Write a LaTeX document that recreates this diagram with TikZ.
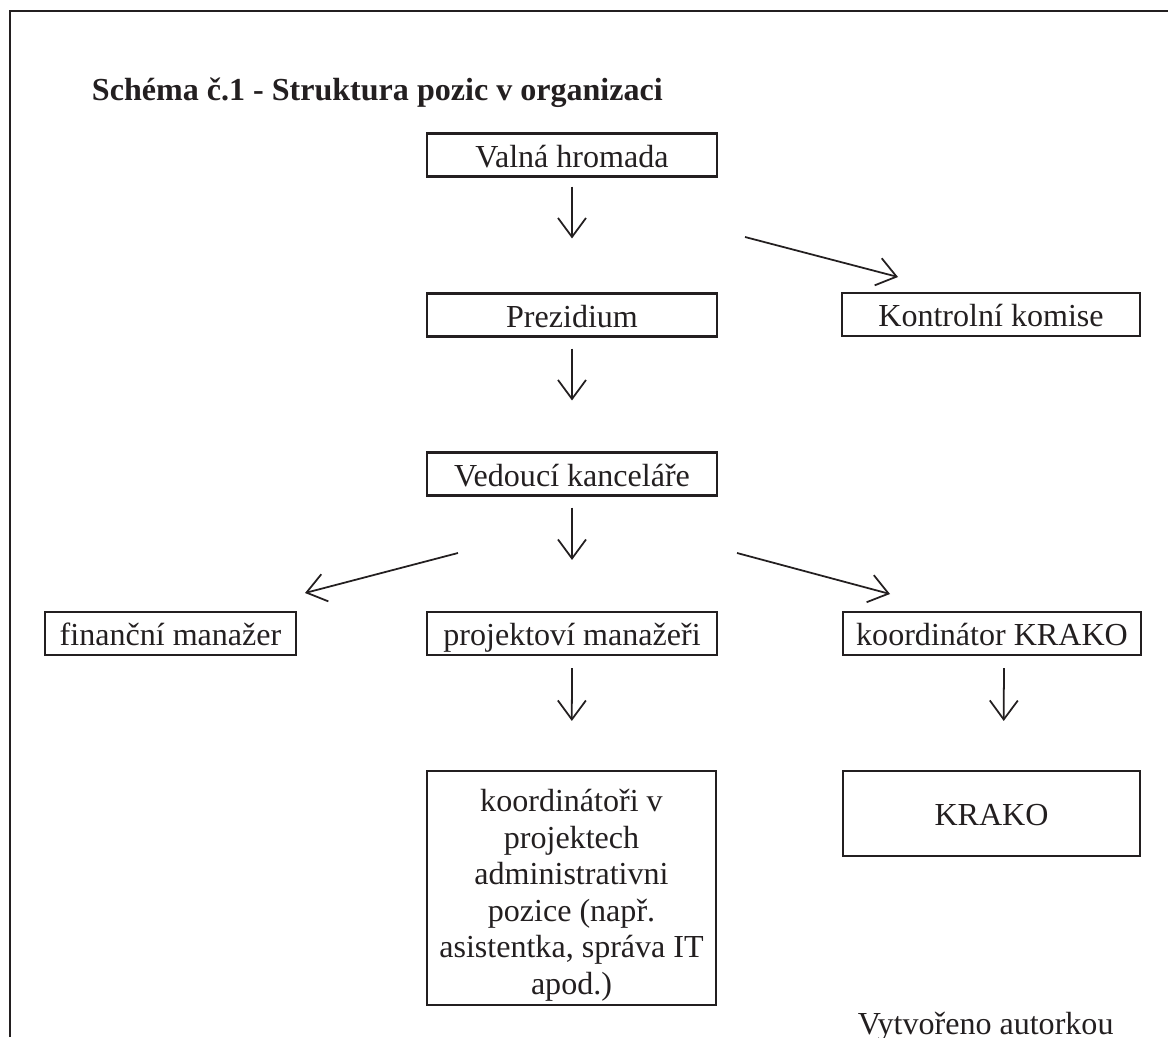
\documentclass[tikz,border=0pt]{standalone}
\usepackage{fontspec}
\setmainfont{Liberation Serif}
\usetikzlibrary{arrows.meta,positioning,calc}
\definecolor{inkblack}{HTML}{231F20}
\newlength{\pxu}
\setlength{\pxu}{0.025cm}

\begin{document}
\begin{tikzpicture}[
  x=\pxu, y=-\pxu,
  every node/.style={font=\fontsize{22.8}{26}\selectfont, text=inkblack},
  posbox/.style={draw=inkblack, line width=1.5pt, inner sep=0pt, align=center,
    text height=21pt, text depth=3.9pt, minimum height=43\pxu},
  tallbox/.style={draw=inkblack, line width=1.5pt, inner sep=0pt, align=center},
  conn/.style={draw=inkblack, line width=1.25pt,
    -{Straight Barb[length=0.475cm, width=0.7cm, line width=1.25pt]}},
  arr/.style={conn, shorten <=11\pxu, shorten >=51\pxu}
]
  \useasboundingbox (0,0) rectangle (1168,1037);

  % Frame (open on the right and at the bottom)
  \draw[inkblack, line width=2pt] (10,1037) -- (10,11) -- (1168,11);

  % Title
  \node[anchor=base west, font=\fontsize{22.8}{26}\selectfont\bfseries] (title)
    at (87,101) {Schéma č.1 - Struktura pozic v organizaci};

  % Positions
  \node[posbox, minimum width=290\pxu] (valna) at (572,155) {Valná hromada};
  \node[posbox, minimum width=290\pxu] (prez) at (572,315) {Prezidium};
  \node[posbox, minimum width=298\pxu] (kontrol) at (991,314.5) {Kontrolní komise};
  \node[posbox, minimum width=290\pxu] (vedouci) at (572,474) {Vedoucí kanceláře};
  \node[posbox, minimum width=251\pxu] (finman) at (170.5,633.5) {finanční manažer};
  \node[posbox, minimum width=290\pxu] (projman) at (572,633.5) {projektoví manažeři};
  \node[posbox, minimum width=298\pxu] (koordk) at (992,633.5) {koordinátor KRAKO};
  \node[tallbox, minimum width=289\pxu, minimum height=234\pxu] (koordp) at (571.5,888)
    {\rule{0pt}{26pt}koordinátoři v\\projektech\\administrativni\\pozice (např.\\asistentka, správa IT\\apod.)};
  \node[posbox, minimum width=297\pxu, minimum height=85\pxu] (krako) at (991.5,813.5) {KRAKO};

  % Source note
  \node[anchor=base west] (note) at (853,1034) {Vytvořeno autorkou};

  % Arrows
  \draw[arr, shorten <=9\pxu, shorten >=54\pxu] (valna) -- (prez);
  \draw[arr] (prez) -- (vedouci);
  \draw[arr] (vedouci) -- (projman);
  \draw[arr, shorten <=12\pxu, shorten >=49\pxu] (projman) -- (koordp);
  \draw[arr, shorten <=12\pxu, shorten >=49\pxu]
    ([xshift=12\pxu]koordk.south) -- ([xshift=12\pxu]krako.north);

  \coordinate (k1) at (745,237);
  \coordinate (k2) at (898,277);
  \coordinate (f1) at (458,553);
  \coordinate (f2) at (305,593);
  \coordinate (r1) at (737,553);
  \coordinate (r2) at (890,594);
  \draw[conn] (k1) -- (k2);
  \draw[conn] (f1) -- (f2);
  \draw[conn] (r1) -- (r2);
\end{tikzpicture}
\end{document}
